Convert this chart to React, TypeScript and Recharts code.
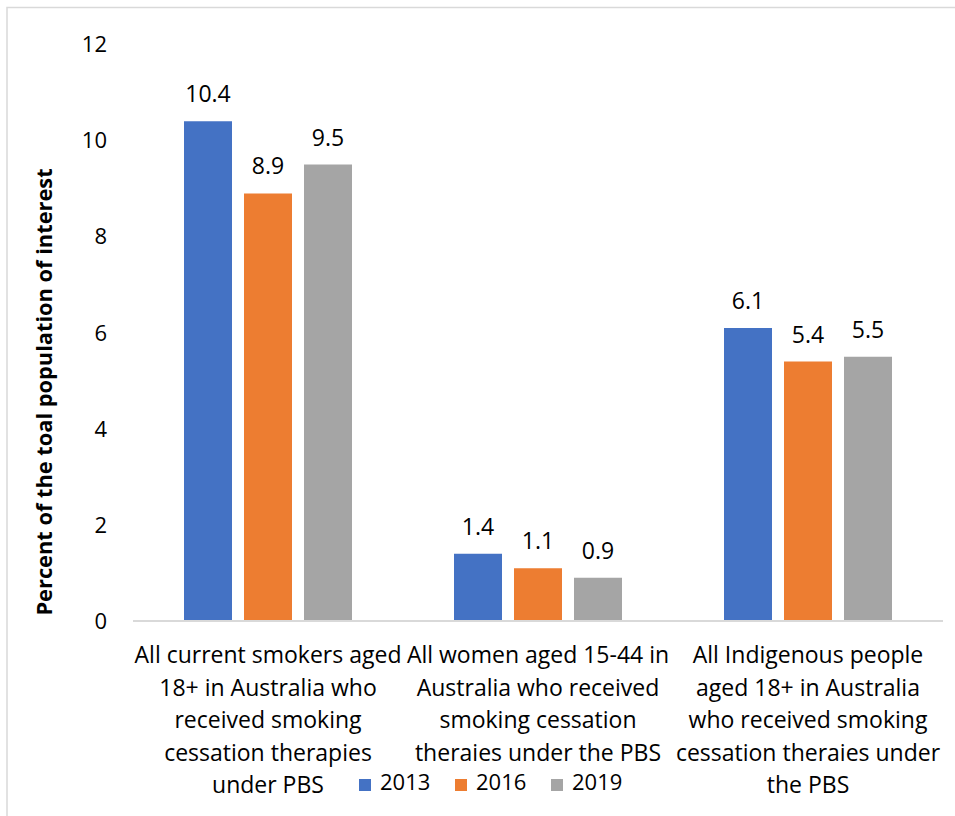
import { BarChart, Bar, XAxis, YAxis, LabelList } from 'recharts'

const CATEGORIES = [
  'All current smokers aged 18+ in Australia who received smoking cessation therapies under PBS',
  'All women aged 15-44 in Australia who received smoking cessation theraies under the PBS',
  'All Indigenous people aged 18+ in Australia who received smoking cessation theraies under the PBS',
]
const CATEGORY_LINES = [
  ['All current smokers aged', '18+ in Australia who', 'received smoking', 'cessation therapies', 'under PBS'],
  ['All women aged 15-44 in', 'Australia who received', 'smoking cessation', 'theraies under the PBS'],
  ['All Indigenous people', 'aged 18+ in Australia', 'who received smoking', 'cessation theraies under', 'the PBS'],
]
const SERIES = ['2013', '2016', '2019']
const VALUES_2013 = [10.4, 1.4, 6.1]
const VALUES_2016 = [8.9, 1.1, 5.4]
const VALUES_2019 = [9.5, 0.9, 5.5]
const Y_TICKS = [0, 2, 4, 6, 8, 10, 12]
const Y_LABEL = 'Percent of the toal population of interest'

const COLORS = ['#4472C4', '#ED7D31', '#A5A5A5']
const FONT = '"Open Sans", Lato, sans-serif'

const data = CATEGORIES.map((name, i) => ({
  name,
  '2013': VALUES_2013[i],
  '2016': VALUES_2016[i],
  '2019': VALUES_2019[i],
}))

function CategoryTick({ x, y, payload }: any) {
  const lines = CATEGORY_LINES[payload.index] || []
  return (
    <text x={x} y={y} textAnchor="middle" fontSize={23} fill="#000" fontFamily={FONT}>
      {lines.map((l, i) => (
        <tspan key={i} x={x} dy={i === 0 ? 42 : 32.5}>{l}</tspan>
      ))}
    </text>
  )
}

function YTitle() {
  return (
    <text x={52} y={392} transform="rotate(-90, 52, 392)" textAnchor="middle"
      fontSize={21.8} fontWeight="bold" fill="#000" fontFamily={FONT}>
      {Y_LABEL}
    </text>
  )
}

export default function App() {
  // legend item x positions (square left edge)
  const legendX = [359, 455, 551]
  return (
    <div style={{ position: 'absolute', left: 0, top: 0, width: 955, height: 816, overflow: 'hidden', background: '#fff', fontFamily: FONT }}>
      <BarChart width={955} height={816} data={data} margin={{ top: 44.5, right: 12, bottom: 0, left: 0 }}
        barSize={48} barGap={12}>
        <XAxis dataKey="name" height={195} tick={<CategoryTick />} tickLine={false} tickSize={0} tickMargin={0}
          axisLine={{ stroke: '#d9d9d9', strokeWidth: 2 }} interval={0} />
        <YAxis width={133} domain={[0, 12]} ticks={Y_TICKS} axisLine={false} tickLine={false} tickSize={6} tickMargin={20}
          tick={{ fontSize: 22, fill: '#000', fontFamily: FONT }} label={<YTitle />} />
        {SERIES.map((s, i) => (
          <Bar key={s} dataKey={s} fill={COLORS[i]} isAnimationActive={false}>
            <LabelList dataKey={s} position="top" offset={19} fontSize={23} fill="#000" fontFamily={FONT} />
          </Bar>
        ))}
      </BarChart>
      <svg width={955} height={816} style={{ position: 'absolute', left: 0, top: 0, pointerEvents: 'none' }}>
        <rect x={7} y={7.5} width={980} height={840} fill="none" stroke="#d9d9d9" strokeWidth={1.5} />
        {SERIES.map((s, i) => (
          <g key={s}>
            <rect x={legendX[i]} y={779} width={12} height={12} fill={COLORS[i]} />
            <text x={legendX[i] + 21} y={790} fontSize={22} fill="#000" fontFamily={FONT}>{s}</text>
          </g>
        ))}
      </svg>
    </div>
  )
}
